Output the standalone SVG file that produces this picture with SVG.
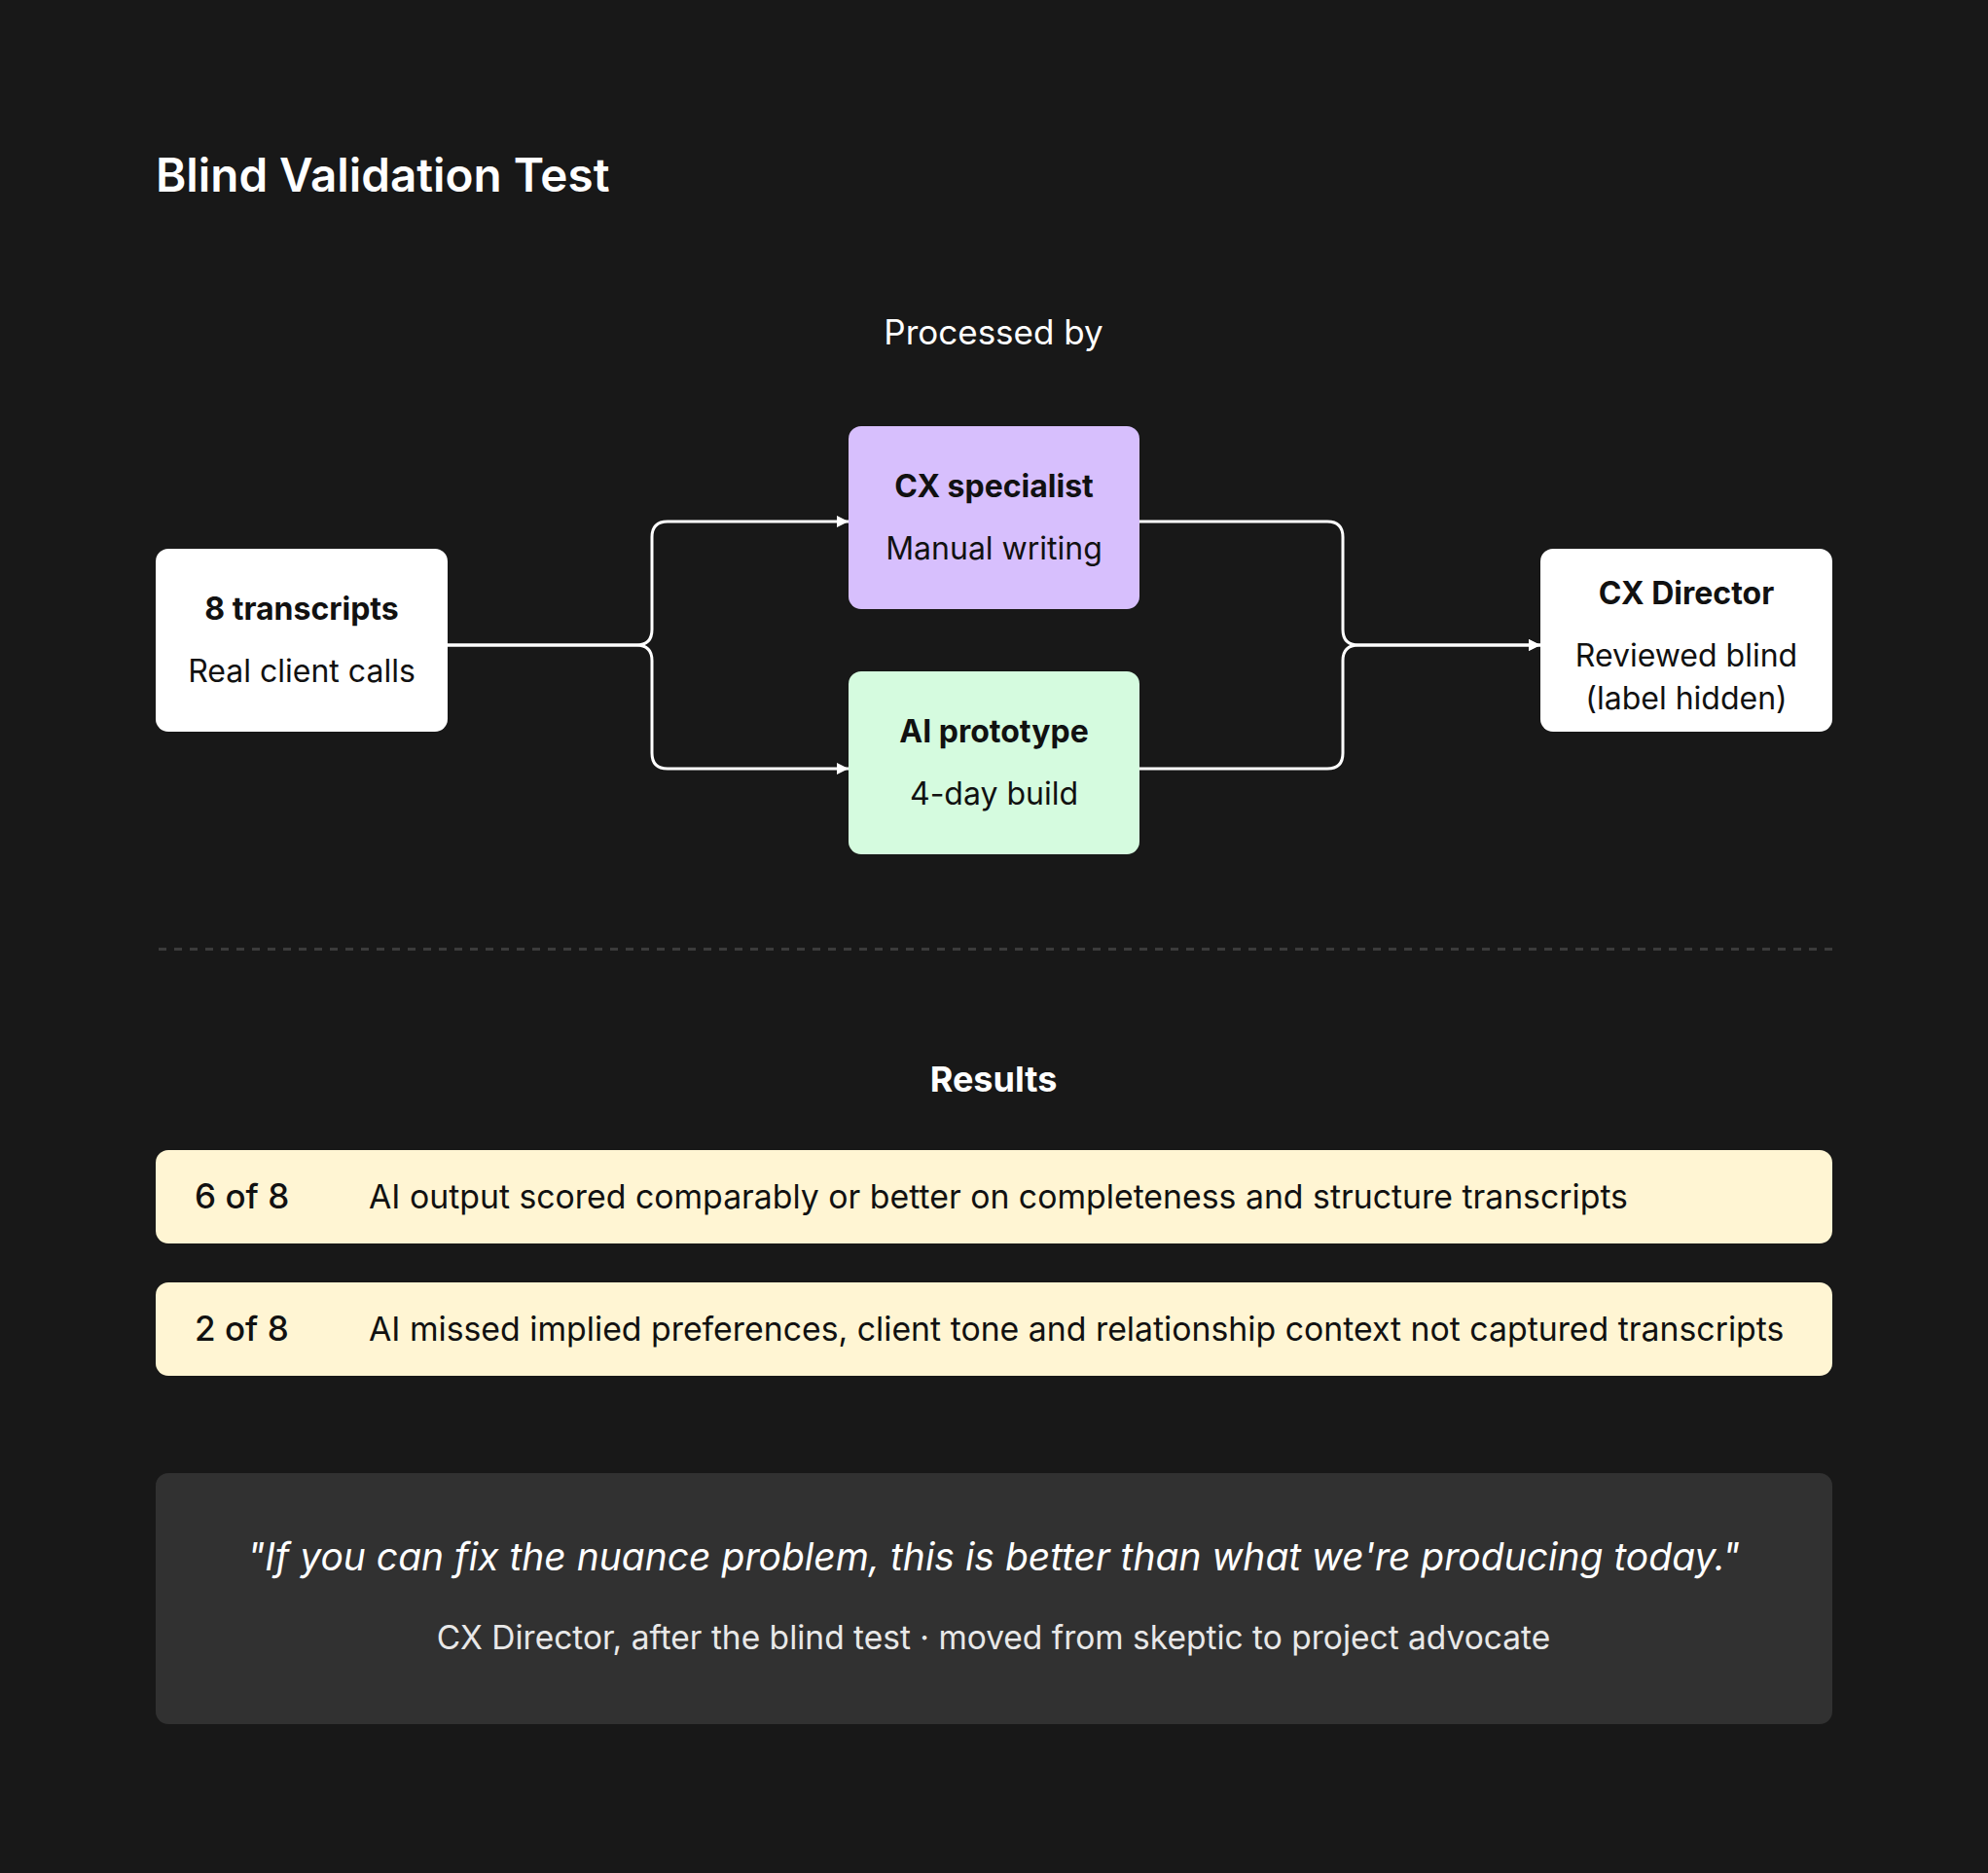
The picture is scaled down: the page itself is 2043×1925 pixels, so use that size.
<svg xmlns="http://www.w3.org/2000/svg" width="2043" height="1925" viewBox="0 0 2043 1925">
<style>
text{font-family:Inter,"Noto Sans","Liberation Sans",sans-serif;}
.node-t{font-size:32px;font-weight:700;fill:#111;text-anchor:middle;}
.node-s{font-size:32px;font-weight:400;fill:#111;text-anchor:middle;}
.conn{fill:none;stroke:#ffffff;stroke-width:3;}
.num{font-size:35px;font-weight:500;fill:#111;}
.desc{font-size:33.8px;font-weight:400;fill:#111;}
</style>
<defs>
<marker id="arr" markerWidth="12" markerHeight="12" refX="12" refY="6" orient="auto" markerUnits="userSpaceOnUse">
<path d="M0,0 L12,6 L0,12 Z" fill="#ffffff"/>
</marker>
</defs>
<rect x="0" y="0" width="2043" height="1925" fill="#181818"/>
<text x="160" y="197" font-size="47.6" font-weight="600" fill="#ffffff">Blind Validation Test</text>
<text x="1021" y="354" font-size="35" font-weight="400" fill="#ffffff" text-anchor="middle">Processed by</text>

<g id="connectors">
<path class="conn" d="M460,663 H654 Q670,663 670,647 V552 Q670,536 686,536 H872" marker-end="url(#arr)"/>
<path class="conn" d="M460,663 H654 Q670,663 670,679 V774 Q670,790 686,790 H872" marker-end="url(#arr)"/>
<path class="conn" d="M1171,536 H1364 Q1380,536 1380,552 V647 Q1380,663 1396,663 H1583" marker-end="url(#arr)"/>
<path class="conn" d="M1171,790 H1364 Q1380,790 1380,774 V679 Q1380,663 1396,663 H1583" marker-end="url(#arr)"/>
</g>

<g id="node-transcripts">
<rect x="160" y="564" width="300" height="188" rx="13" fill="#ffffff"/>
<text class="node-t" x="310" y="637">8 transcripts</text>
<text class="node-s" x="310" y="701">Real client calls</text>
</g>
<g id="node-specialist">
<rect x="872" y="438" width="299" height="188" rx="13" fill="#d7bffd"/>
<text class="node-t" x="1021.5" y="511">CX specialist</text>
<text class="node-s" x="1021.5" y="575">Manual writing</text>
</g>
<g id="node-ai">
<rect x="872" y="690" width="299" height="188" rx="13" fill="#d5fbdf"/>
<text class="node-t" x="1021.5" y="763">AI prototype</text>
<text class="node-s" x="1021.5" y="827">4-day build</text>
</g>
<g id="node-director">
<rect x="1583" y="564" width="300" height="188" rx="13" fill="#ffffff"/>
<text class="node-t" x="1733" y="621">CX Director</text>
<text class="node-s" x="1733" y="685">Reviewed blind</text>
<text class="node-s" x="1733" y="729">(label hidden)</text>
</g>

<line x1="160" y1="975.5" x2="1883" y2="975.5" stroke="#3b3b3b" stroke-width="3" stroke-dasharray="8 8" stroke-dashoffset="-3"/>

<text x="1021" y="1122" font-size="36" font-weight="700" fill="#ffffff" text-anchor="middle">Results</text>

<g id="result-1">
<rect x="160" y="1182" width="1723" height="96" rx="13" fill="#fff5d3"/>
<text class="num" x="200" y="1242">6 of 8</text>
<text class="desc" x="379" y="1242">AI output scored comparably or better on completeness and structure transcripts</text>
</g>
<g id="result-2">
<rect x="160" y="1318" width="1723" height="96" rx="13" fill="#fff5d3"/>
<text class="num" x="200" y="1378">2 of 8</text>
<text class="desc" x="379" y="1378">AI missed implied preferences, client tone and relationship context not captured transcripts</text>
</g>

<g id="quote">
<rect x="160" y="1514" width="1723" height="258" rx="13" fill="#313131"/>
<text x="1021" y="1614" font-size="39" font-style="italic" font-weight="400" fill="#ffffff" text-anchor="middle">"If you can fix the nuance problem, this is better than what we're producing today."</text>
<text x="1021" y="1695" font-size="33.5" font-weight="400" fill="#e8e8e8" text-anchor="middle">CX Director, after the blind test · moved from skeptic to project advocate</text>
</g>
</svg>
